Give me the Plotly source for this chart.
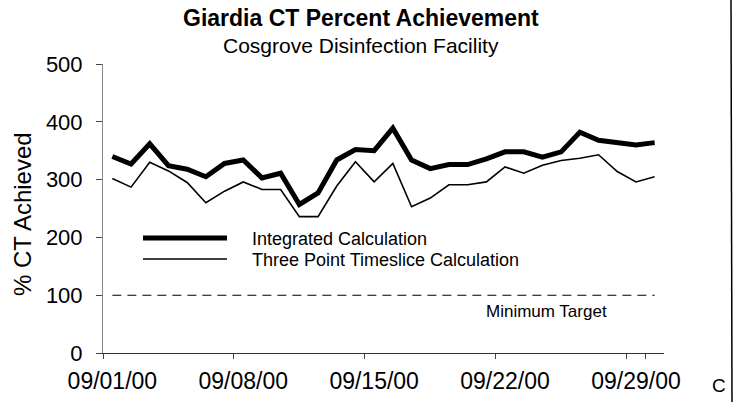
import plotly.graph_objects as go

# ---------------- data ----------------
DATES = ["09/01/00", "09/02/00", "09/03/00", "09/04/00", "09/05/00", "09/06/00",
         "09/07/00", "09/08/00", "09/09/00", "09/10/00", "09/11/00", "09/12/00",
         "09/13/00", "09/14/00", "09/15/00", "09/16/00", "09/17/00", "09/18/00",
         "09/19/00", "09/20/00", "09/21/00", "09/22/00", "09/23/00", "09/24/00",
         "09/25/00", "09/26/00", "09/27/00", "09/28/00", "09/29/00", "09/30/00"]
INTEGRATED = [340, 327, 362, 324, 318, 305, 328, 334, 303, 311, 257, 277, 334, 352, 350,
              389, 334, 319, 326, 326, 336, 348, 348, 339, 348, 382, 368, 363, 360, 364]
TIMESLICE = [302, 287, 330, 315, 295, 260, 280, 296, 283, 283, 236, 236, 289, 331, 296,
             328, 253, 268, 291, 291, 296, 322, 311, 325, 333, 337, 343, 314, 296, 305]
MIN_TARGET = 100
X_TICKS = ["09/01/00", "09/08/00", "09/15/00", "09/22/00", "09/29/00"]
Y_TICKS = [0, 100, 200, 300, 400, 500]

FONT = "Liberation Sans, Arial, sans-serif"
W, H = 740, 402
L, R, T, B = 103, 76, 64, 49
PW, PH = W - L - R, H - T - B


def px(x, y):
    """pixel position -> paper coords"""
    return (x - L) / PW, (H - B - y) / PH


fig = go.Figure()
fig.add_trace(go.Scatter(x=DATES, y=INTEGRATED, mode="lines",
                         line=dict(color="black", width=5),
                         name="Integrated Calculation"))
fig.add_trace(go.Scatter(x=DATES, y=TIMESLICE, mode="lines",
                         line=dict(color="black", width=1.6),
                         name="Three Point Timeslice Calculation"))
fig.add_trace(go.Scatter(x=[DATES[0], DATES[-1]], y=[MIN_TARGET, MIN_TARGET], mode="lines",
                         line=dict(color="black", width=1.1, dash="9px,6px"),
                         name="Minimum Target"))

shapes = []
ann = []

# manual legend
for (yy, wd, label) in [(238, 5, "Integrated Calculation"),
                        (259, 1.6, "Three Point Timeslice Calculation")]:
    x0, y0 = px(143, yy)
    x1, _ = px(227, yy)
    shapes.append(dict(type="line", xref="paper", yref="paper", x0=x0, x1=x1, y0=y0, y1=y0,
                       line=dict(color="black", width=wd)))
    tx, ty = px(250, yy + 1)
    ann.append(dict(text=label, xref="paper", yref="paper", x=tx, y=ty, xanchor="left",
                    yanchor="middle", showarrow=False, font=dict(size=18, color="black", family=FONT)))

tx, ty = px(484, 311)
ann.append(dict(text="Minimum Target", xref="paper", yref="paper", x=tx, y=ty, xanchor="left",
                yanchor="middle", showarrow=False, font=dict(size=17, color="black", family=FONT)))

tx, ty = px(361, 18)
ann.append(dict(text="<b>Giardia CT Percent Achievement</b>", xref="paper", yref="paper", x=tx, y=ty,
                xanchor="center", yanchor="middle", showarrow=False,
                font=dict(size=23, color="black", family=FONT)))
tx, ty = px(361, 46)
ann.append(dict(text="Cosgrove Disinfection Facility", xref="paper", yref="paper", x=tx, y=ty,
                xanchor="center", yanchor="middle", showarrow=False,
                font=dict(size=21, color="black", family=FONT)))
tx, ty = px(22, 214)
ann.append(dict(text="% CT Achieved", xref="paper", yref="paper", x=tx, y=ty, textangle=-90,
                xanchor="center", yanchor="middle", showarrow=False,
                font=dict(size=24, color="black", family=FONT)))
tx, ty = px(719, 385)
ann.append(dict(text="C", xref="paper", yref="paper", x=tx, y=ty,
                xanchor="center", yanchor="middle", showarrow=False,
                font=dict(size=19, color="black", family=FONT)))

# right frame edge
bx0, by0 = px(731, 0)
bx1, by1 = px(732, H)
shapes.append(dict(type="line", xref="paper", yref="paper", x0=bx0, x1=bx1, y0=by0, y1=by1,
                   line=dict(color="black", width=1.5)))

fig.update_layout(
    width=W, height=H,
    margin=dict(l=L, r=R, t=T, b=B, pad=0, autoexpand=False),
    paper_bgcolor="white", plot_bgcolor="white",
    showlegend=False,
    font=dict(family=FONT, color="black"),
    shapes=shapes, annotations=ann,
    xaxis=dict(type="category", categoryorder="array", categoryarray=DATES,
               range=[-0.5, len(DATES) - 0.5], automargin=False,
               tickmode="array", tickvals=X_TICKS, ticktext=X_TICKS, tickangle=0,
               tickson="boundaries", ticks="outside", ticklen=5, tickcolor="#444",
               showline=True, linecolor="#333", linewidth=1,
               showgrid=False, zeroline=False,
               tickfont=dict(size=23, family=FONT, color="black"),
               ticklabelstandoff=7),
    yaxis=dict(range=[0, 500], tickmode="array", tickvals=Y_TICKS, automargin=False,
               ticks="outside", ticklen=6, tickcolor="#444",
               showline=True, linecolor="#888", linewidth=1,
               showgrid=False, zeroline=False,
               tickfont=dict(size=22, family=FONT, color="black"),
               ticklabelstandoff=9),
)

fig.write_html("out.html", config={"displayModeBar": False},
               post_script="document.body.style.margin='0';")
